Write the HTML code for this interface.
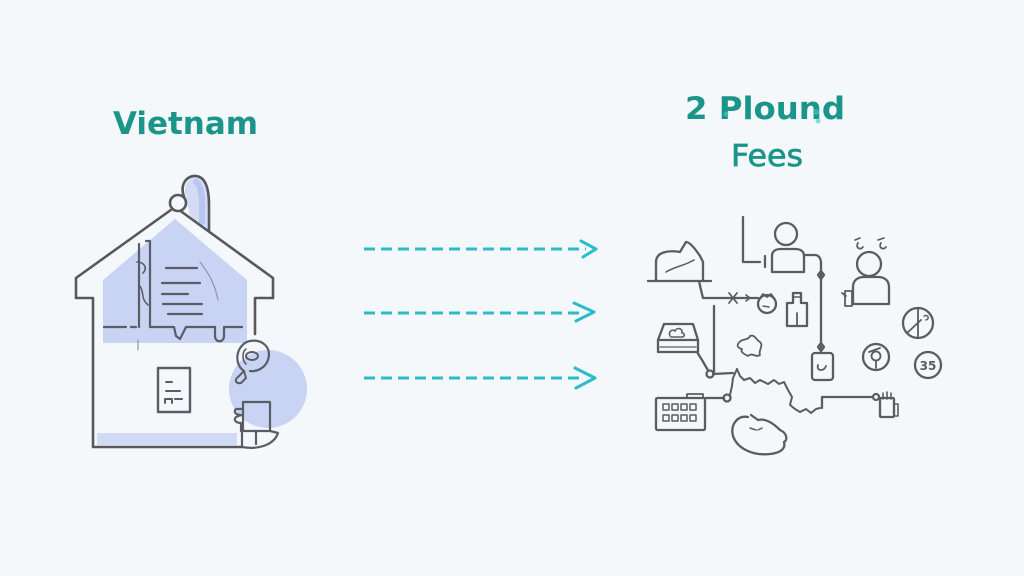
<!DOCTYPE html>
<html>
<head>
<meta charset="utf-8">
<style>
  html,body{margin:0;padding:0;background:#f4f8fa;}
  body{width:1024px;height:576px;overflow:hidden;}
  svg{display:block;}
</style>
</head>
<body>
<svg width="1024" height="576" viewBox="0 0 1024 576" xmlns="http://www.w3.org/2000/svg">
  <rect x="0" y="0" width="1024" height="576" fill="#f4f8fa"/>

  <!-- Titles -->
  <text x="113" y="134" font-family="DejaVu Sans, Liberation Sans, sans-serif" font-weight="bold" font-size="31" fill="#1b9589" textLength="145" lengthAdjust="spacingAndGlyphs">Vietnam</text>
  <text x="685" y="119" font-family="DejaVu Sans, Liberation Sans, sans-serif" font-weight="bold" font-size="31" fill="#1b9589" textLength="160" lengthAdjust="spacingAndGlyphs">2 Plound</text>
  <text x="731" y="166" font-family="DejaVu Sans, Liberation Sans, sans-serif" font-size="30" fill="#1b9589" stroke="#1b9589" stroke-width="0.7" textLength="72" lengthAdjust="spacingAndGlyphs">Fees</text>
  <!-- specks on title -->
  <circle cx="726" cy="114" r="2.5" fill="#3cc6c6" opacity="0.7"/>
  <circle cx="816" cy="112" r="3" fill="#3cc6c6" opacity="0.7"/>
  <circle cx="818" cy="121" r="2.5" fill="#3cc6c6" opacity="0.6"/>

  <!-- ============ HOUSE ============ -->
  <circle cx="268" cy="389" r="39" fill="#c9d3f3"/>
  <polygon points="175,219 103,280 103,343 247,343 247,280" fill="#c9d3f3"/>
  <rect x="97" y="433" width="140" height="12" fill="#d1daf5"/>
  <path d="M186,198 C182,182 192,176 197,177 C206,179 208,192 208,205 L208,229 L190,216 Z" fill="#d3dbf5"/>
  <path d="M196,182 C202,186 203,200 202,222" stroke="#b9c5ee" stroke-width="6" fill="none" stroke-linecap="round"/>

  <g fill="none" stroke="#56585e" stroke-width="2.6" stroke-linejoin="round" stroke-linecap="round">
    <path d="M184,197 C179,182 189,175 196,176 C206,177 209,190 209,205 L209,231"/>
    <path d="M175,207 L76,278 L76,298 L93,298 L93,447 L242,447"/>
    <path d="M175,207 L273,278 L273,298 L255,298 L255,334"/>
  </g>
  <circle cx="178" cy="203" r="8" fill="#f4f8fa" stroke="#56585e" stroke-width="2.6"/>

  <g fill="none" stroke="#5a5d66" stroke-width="2.2" stroke-linecap="round" stroke-linejoin="round">
    <path d="M139,244 L139,327"/>
    <path d="M146,241 L150,241 L150,327"/>
    <path d="M137,262 C144,262 148,268 143,273" stroke-width="1.6"/>
    <path d="M139,285 C145,292 140,298 148,305" stroke-width="1.5"/>
    <path d="M166,268 L197,268"/>
    <path d="M162,283 L200,283"/>
    <path d="M162,294 L188,294"/>
    <path d="M163,304 L202,304"/>
    <path d="M168,314 L202,314"/>
    <path d="M104,327 L126,327"/>
    <path d="M131,327 L136,327"/>
    <path d="M150,327 L174,327 L176,336 L180,339 L184,331 L186,327 L215,327 L215,336 C215,343 224,343 224,336 L224,327 L242,327"/>
    <path d="M200,262 C210,275 215,285 218,300" stroke="#8e96ad" stroke-width="1.2"/>
    <path d="M138,340 L138,350" stroke="#8e96ad" stroke-width="1.2"/>
    <rect x="158" y="368" width="32" height="44" stroke-width="2.4"/>
    <path d="M166,382 L172,382" stroke-width="2"/>
    <path d="M166,391 L180,391" stroke-width="2"/>
    <path d="M165,403 L165,399 L172,399 L172,403 M175,399 L182,399" stroke-width="2"/>
    <path d="M244,371 C233,364 236,344 250,341 C262,339 272,347 268,360 C265,368 257,372 250,371"/>
    <ellipse cx="252" cy="356" rx="6" ry="4" stroke-width="2"/>
    <path d="M246,349 C242,352 242,360 246,364" stroke-width="1.6"/>
    <path d="M244,371 L238,377 C234,380 236,384 241,383 L246,378 Z" stroke-width="2"/>
    <path d="M243,402 L270,402 L270,431 L243,431 Z"/>
    <path d="M243,409 L236,409 C233,412 236,415 241,415 L236,417 C233,420 236,423 241,423 L241,431"/>
    <path d="M242,447 C258,450 274,445 278,433 L270,431 M242,431 L242,447 M256,431 L256,444"/>
  </g>

  <!-- ============ ARROWS ============ -->
  <g fill="none" stroke="#2bbcc8" stroke-width="3" stroke-linecap="round">
    <path d="M364,249 L586,249" stroke-dasharray="11,6" stroke-linecap="butt"/>
    <path d="M581,241 L596,249 L583,257" stroke-linejoin="round"/>
    <path d="M364,313 L580,313" stroke-dasharray="11,6" stroke-linecap="butt"/>
    <path d="M574,303 L594,312 L576,321" stroke-linejoin="round"/>
    <path d="M364,378 L582,378" stroke-dasharray="11,6" stroke-linecap="butt"/>
    <path d="M575,368 L595,378 L576,388" stroke-linejoin="round"/>
  </g>

  <!-- ============ NETWORK ============ -->
  <g fill="none" stroke="#5c5c60" stroke-width="2.3" stroke-linecap="round" stroke-linejoin="round">
    <path d="M648,281 L711,281"/>
    <path d="M656,281 L656,262 C656,252 668,250 680,252 L686,242 C690,242 696,250 700,256 L703,262 L703,281"/>
    <path d="M666,272 C676,266 684,266 694,260" stroke-width="1.6"/>
    <path d="M743,217 L743,262 L760,262"/>
    <path d="M765,256 L765,267"/>
    <circle cx="786" cy="234" r="11"/>
    <path d="M772,272 L772,256 C772,251 776,249 781,249 L795,249 C800,249 804,251 804,256 L804,272 Z"/>
    <path d="M804,255 L815,255 C819,255 821,259 821,263 L821,350"/>
    <path d="M818,275 L821,271 L824,275 L821,279 Z"/>
    <path d="M818,347 L821,343 L824,347 L821,351 Z"/>
    <rect x="812" y="353" width="21" height="27" rx="3"/>
    <path d="M826,366 C824,372 816,371 818,365" stroke-width="1.8"/>
    <circle cx="869" cy="264" r="12"/>
    <path d="M853,304 L853,287 C853,280 858,277 864,277 L878,277 C884,277 889,280 889,287 L889,304 Z"/>
    <path d="M858,243 C855,247 860,251 863,247 M881,243 C878,247 883,251 886,247" stroke-width="1.8"/>
    <path d="M855,240 L860,238 M878,240 L884,238" stroke-width="1.6"/>
    <path d="M845,291 L852,291 L852,306 L845,306 Z M842,293 L846,296" stroke-width="1.8"/>
    <circle cx="918" cy="323" r="15"/>
    <path d="M918,308 L918,338 M907,333 L921,320" stroke-width="1.8"/>
    <path d="M924,316 C928,314 930,319 926,320" stroke-width="1.5"/>
    <circle cx="876" cy="357" r="13"/>
    <circle cx="876" cy="356" r="4.5" stroke-width="1.8"/>
    <path d="M876,361 L876,368 M869,352 L880,348" stroke-width="1.8"/>
    <circle cx="928" cy="365" r="13"/>
    <text x="928" y="370" font-family="DejaVu Sans, sans-serif" font-size="12" font-weight="bold" fill="#5c5c60" stroke="none" text-anchor="middle">35</text>
    <path d="M699,281 L701,290 L703,298 L758,298"/>
    <path d="M729,293 L737,303 M737,293 L729,303" stroke-width="1.8"/>
    <path d="M746,295 L750,298 L746,301" stroke-width="1.6"/>
    <circle cx="767" cy="304" r="9"/>
    <path d="M760,298 L763,294 L767,297 L771,294 L774,298" stroke-width="1.8"/>
    <path d="M763,306 L769,307" stroke-width="1.4"/>
    <path d="M787,326 L787,303 L793,303 L793,293 L801,293 L801,303 L807,303 L807,326 Z"/>
    <path d="M797,313 L797,326" stroke-width="1.8"/>
    <path d="M793,297 L801,297" stroke-width="1.6"/>
    <path d="M714,306 L714,373"/>
    <path d="M658,340 L664,324 L693,324 L698,340 L698,352 L658,352 Z"/>
    <path d="M658,340 L698,340"/>
    <path d="M660,347 L696,347" stroke-width="1.2"/>
    <path d="M670,336 C668,331 673,329 675,331 C677,327 683,328 682,333 C685,333 685,337 682,337 L671,337" stroke-width="1.6"/>
    <path d="M697,352 L702,360 L709,372"/>
    <circle cx="710" cy="374" r="3.5" fill="#f4f8fa"/>
    <path d="M713,374 L733,373"/>
    <path d="M737,369 L740,376 L744,380 L750,378 L755,383 L760,380 L768,384 L774,380 L779,384 L784,382 L788,390 L792,397 L790,405 L795,409 L800,412 L806,409 L811,413 L816,409 L820,408" stroke-width="2"/>
    <path d="M737,369 L733,378 L732,386" stroke-width="2"/>
    <circle cx="727" cy="398" r="3.5" fill="#f4f8fa"/>
    <path d="M705,398 L724,398"/>
    <path d="M730,395 L732,386" stroke-width="2"/>
    <path d="M822,408 L822,397 L875,397"/>
    <circle cx="876" cy="397" r="3" fill="#f4f8fa"/>
    <rect x="880" y="398" width="14" height="19" rx="1"/>
    <path d="M883,393 L883,399 M887,392 L887,399 M891,393 L891,399" stroke-width="1.6"/>
    <path d="M894,404 L898,404 L898,416 L894,416" stroke-width="1.6"/>
    <path d="M738,344 C741,338 748,341 750,336 C755,334 756,340 760,342 C764,346 758,350 760,355 C756,358 752,352 748,356 C744,354 740,352 742,349 C738,348 737,346 738,344 Z" stroke-width="1.8"/>
    <rect x="656" y="398" width="49" height="32" rx="1.5"/>
    <path d="M687,398 L687,394 L703,394 L703,398" stroke-width="1.8"/>
    <g stroke-width="1.5">
      <rect x="663" y="404" width="6" height="6"/>
      <rect x="672" y="404" width="6" height="6"/>
      <rect x="681" y="404" width="6" height="6"/>
      <rect x="690" y="404" width="6" height="6"/>
      <rect x="663" y="415" width="6" height="6"/>
      <rect x="672" y="415" width="6" height="6"/>
      <rect x="681" y="415" width="6" height="6"/>
      <rect x="690" y="415" width="6" height="6"/>
    </g>
    <path d="M748,417 C738,415 730,424 733,436 C737,448 752,456 770,454 C780,453 786,449 784,442 C788,440 787,433 780,430 C774,424 766,418 758,420 L751,415"/>
    <path d="M750,428 L756,430 M758,430 L762,428" stroke-width="1.5"/>
  </g>
</svg>
</body>
</html>
